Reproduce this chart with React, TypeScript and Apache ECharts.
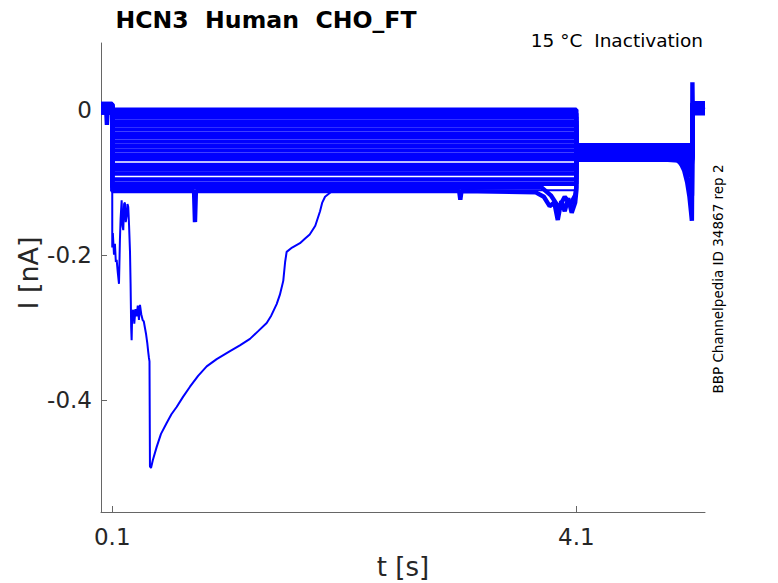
import React, { useEffect, useRef } from "react";
import * as echarts from "echarts";

// ---- axes ----
const xTicks = [0.1, 4.1];
const yTicks = [-0.4, -0.2, 0];
const xRange = [0.003, 5.209];
const yRange = [-0.5548, 0.0921];

// ---- protocol times (s): trace start, step on, step off, test off, trace end ----
const protocolTimes = [0.003, 0.1, 4.1, 5.1, 5.209];

// ---- per-sweep current levels (nA) ----
const preLevels = [0.006, 0.001, 0.007, -0.003, 0.004, 0.0, 0.008, 0.002, -0.004, 0.005, 0.001, 0.007, -0.002, 0.003, -0.001, 0.002, 0.008, -0.004, 0.005, 0.001];
const stepLevels = [0.0, -0.005, -0.010, -0.016, -0.021, -0.027, -0.033, -0.038, -0.044, -0.050, -0.056, -0.062, -0.068, -0.076, -0.082, -0.088, -0.096, -0.102, -0.107, -0.112];
const tailLevels = [-0.051, -0.060, -0.055, -0.067, -0.049, -0.058, -0.063, -0.054, -0.069, -0.057, -0.061, -0.050, -0.065, -0.059, -0.053, -0.062, -0.056, -0.068, -0.060, -0.064];
const endLevels = [0.006, 0.001, 0.008, -0.004, 0.003, 0.009, -0.001, 0.005, 0.002, -0.002, 0.007, 0.003, 0.0, 0.006, -0.005, 0.004, 0.002, 0.008, -0.001, 0.004];

// ---- excursions of individual sweeps [t, I] ----
const sweep0Extras = [[0.046, 0.006], [0.054, -0.021], [0.062, 0.006]];
const sweep16Extras = [[5.02, -0.058], [5.06, -0.072], [5.09, -0.085]];
const sweep17Extras = [[5.0, -0.068], [5.05, -0.078], [5.085, -0.092]];
const sweep18Extras = [[3.8, -0.107], [3.88, -0.118], [3.95, -0.135], [4.0, -0.12], [4.05, -0.13], [4.09, -0.118], [4.98, -0.07], [5.04, -0.082], [5.07, -0.1], [5.09, -0.12], [5.097, -0.118]];
const sweep19Extras = [[0.805, -0.112], [0.813, -0.155], [0.821, -0.112], [3.09, -0.112], [3.1, -0.124], [3.11, -0.112], [3.75, -0.114], [3.82, -0.12], [3.87, -0.133], [3.91, -0.128], [3.94, -0.152], [3.97, -0.126], [4.0, -0.14], [4.03, -0.122], [4.06, -0.142], [4.09, -0.128], [4.95, -0.066], [5.0, -0.074], [5.03, -0.084], [5.055, -0.1], [5.075, -0.12], [5.088, -0.14], [5.096, -0.153], [5.1005, 0.038], [5.103, 0.002]];

// ---- the sweep with the large transient ----
const bigSweepTimes = [0.003, 0.1, 0.1, 0.105, 0.115, 0.123, 0.131, 0.138, 0.148, 0.158, 0.166, 0.172, 0.181, 0.188, 0.195, 0.202, 0.209, 0.216, 0.224, 0.231, 0.238, 0.245, 0.253, 0.258, 0.263, 0.267, 0.272, 0.281, 0.29, 0.3, 0.31, 0.32, 0.33, 0.339, 0.35, 0.362, 0.372, 0.382, 0.392, 0.402, 0.41, 0.416, 0.421, 0.425, 0.434, 0.45, 0.483, 0.52, 0.569, 0.61, 0.655, 0.71, 0.77, 0.84, 0.914, 1.0, 1.115, 1.2, 1.287, 1.36, 1.431, 1.47, 1.517, 1.545, 1.574, 1.59, 1.603, 1.65, 1.718, 1.76, 1.802, 1.85, 1.891, 1.91, 1.934, 1.98, 2.034, 4.1, 4.1, 5.1, 5.1, 5.209];
const bigSweepCurrents = [0.002, 0.002, -0.19, -0.17, -0.2, -0.185, -0.21, -0.207, -0.225, -0.24, -0.18, -0.15, -0.125, -0.16, -0.166, -0.13, -0.128, -0.155, -0.147, -0.13, -0.134, -0.16, -0.196, -0.24, -0.3, -0.318, -0.28, -0.276, -0.295, -0.275, -0.285, -0.27, -0.29, -0.269, -0.282, -0.29, -0.292, -0.301, -0.31, -0.322, -0.334, -0.342, -0.347, -0.492, -0.494, -0.483, -0.465, -0.447, -0.432, -0.42, -0.41, -0.396, -0.382, -0.367, -0.354, -0.344, -0.333, -0.325, -0.316, -0.305, -0.294, -0.284, -0.268, -0.255, -0.236, -0.21, -0.196, -0.19, -0.184, -0.178, -0.172, -0.16, -0.14, -0.128, -0.12, -0.114, -0.111, -0.111, -0.06, -0.06, 0.002, 0.002];

const sweepExtras: Record<number, number[][]> = {
  0: sweep0Extras,
  16: sweep16Extras,
  17: sweep17Extras,
  18: sweep18Extras,
  19: sweep19Extras,
};

const BLUE = "#0000ff";
const FONT = "DejaVu Sans";

function buildSweep(i: number): number[][] {
  const [t0, t1, t2, t3, t4] = protocolTimes;
  const base = [
    [t0, preLevels[i]], [t1, preLevels[i]],
    [t1, stepLevels[i]], [t2, stepLevels[i]],
    [t2, tailLevels[i]], [t3, tailLevels[i]],
    [t3, endLevels[i]], [t4, endLevels[i]],
  ];
  const pts = base.concat(sweepExtras[i] || []);
  return pts
    .map((p, k) => ({ p, k }))
    .sort((a, b) => (a.p[0] - b.p[0]) || (a.k - b.k))
    .map((o) => o.p);
}

export default function App() {
  const ref = useRef<HTMLDivElement>(null);
  useEffect(() => {
    if (!ref.current) return;
    const chart = echarts.init(ref.current, null, { renderer: "svg" });
    const series: any[] = stepLevels.map((_, i) => ({
      type: "line",
      data: buildSweep(i),
      showSymbol: false,
      symbol: "none",
      silent: true,
      lineStyle: { color: BLUE, width: 4.4 },
      z: 2,
    }));
    series.push({
      type: "line",
      data: bigSweepTimes.map((t, k) => [t, bigSweepCurrents[k]]),
      showSymbol: false,
      symbol: "none",
      silent: true,
      lineStyle: { color: BLUE, width: 2 },
      z: 3,
    });
    const axisCommon = {
      type: "value",
      axisLine: { show: true, onZero: false, lineStyle: { color: "#666666", width: 1 } },
      splitLine: { show: false },
    };
    chart.setOption({
      animation: false,
      backgroundColor: "#ffffff",
      grid: { left: 101, top: 43, right: 73, bottom: 71, containLabel: false },
      xAxis: {
        ...axisCommon,
        min: xRange[0],
        max: xRange[1],
        axisTick: { show: true, inside: true, length: 6, customValues: xTicks, lineStyle: { color: "#666666" } },
        axisLabel: {
          show: true,
          customValues: xTicks,
          formatter: (v: number) => String(v),
          margin: 13,
          fontSize: 23,
          fontFamily: FONT,
          color: "#262626",
        },
      },
      yAxis: {
        ...axisCommon,
        min: yRange[0],
        max: yRange[1],
        axisTick: { show: true, inside: true, length: 6, customValues: yTicks, lineStyle: { color: "#666666" } },
        axisLabel: {
          show: true,
          customValues: yTicks,
          formatter: (v: number) => String(v),
          margin: 9,
          fontSize: 23,
          fontFamily: FONT,
          color: "#262626",
        },
      },
      series,
      graphic: [
        {
          type: "text", x: 266, y: 20,
          style: { text: "HCN3  Human  CHO_FT", fill: "#000000", font: `bold 23.6px "${FONT}"`, align: "center", verticalAlign: "middle", textAlign: "center", textVerticalAlign: "middle" },
        },
        {
          type: "text", x: 703, y: 40,
          style: { text: "15 °C  Inactivation", fill: "#000000", font: `18.5px "${FONT}"`, align: "right", verticalAlign: "middle", textAlign: "right", textVerticalAlign: "middle" },
        },
        {
          type: "text", x: 403, y: 567,
          style: { text: "t [s]", fill: "#262626", font: `26px "${FONT}"`, align: "center", verticalAlign: "middle", textAlign: "center", textVerticalAlign: "middle" },
        },
        {
          type: "text", x: 28, y: 273, rotation: Math.PI / 2,
          style: { text: "I [nA]", fill: "#262626", font: `27px "${FONT}"`, align: "center", verticalAlign: "middle", textAlign: "center", textVerticalAlign: "middle" },
        },
        {
          type: "text", x: 717.5, y: 279, rotation: Math.PI / 2,
          style: { text: "BBP Channelpedia ID 34867 rep 2", fill: "#000000", font: `13.5px "${FONT}"`, align: "center", verticalAlign: "middle", textAlign: "center", textVerticalAlign: "middle" },
        },
      ],
    });
    return () => chart.dispose();
  }, []);
  return (
    <div
      ref={ref}
      style={{ position: "fixed", left: 0, top: 0, width: 778, height: 583, background: "#ffffff" }}
    />
  );
}
